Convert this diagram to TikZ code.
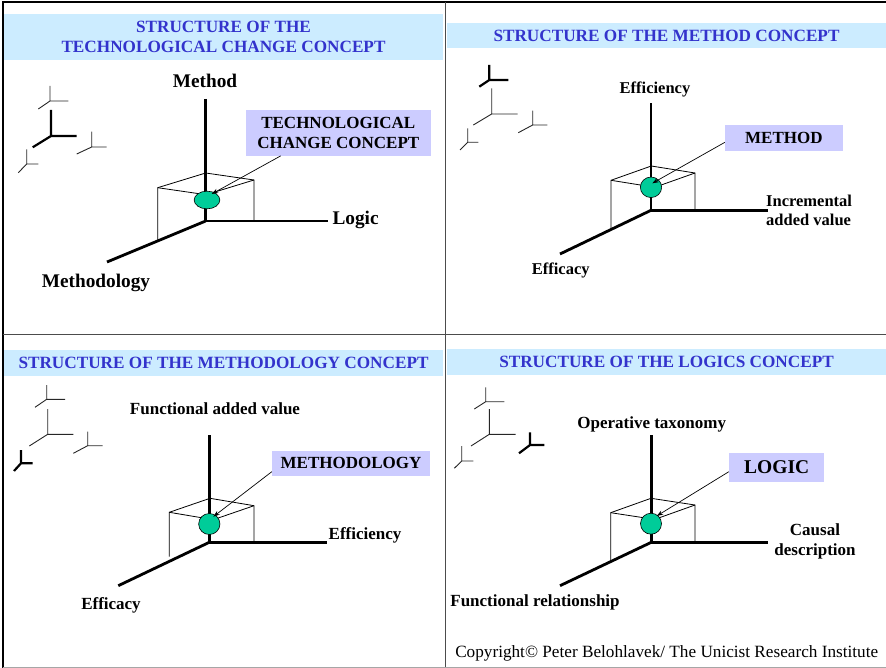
\documentclass[tikz,border=0pt]{standalone}
\usepackage{fontspec}
\setmainfont{Liberation Serif}
\usetikzlibrary{arrows.meta,shapes.geometric}
\definecolor{bandblue}{RGB}{204,236,255}
\definecolor{headblue}{RGB}{51,51,204}
\definecolor{lav}{RGB}{204,204,255}
\definecolor{dotgreen}{RGB}{0,204,153}
\begin{document}
\begin{tikzpicture}[x=1pt,y=-1pt,
  band/.style={fill=bandblue, draw=none, inner sep=0, minimum width=439pt, text=headblue, font=\bfseries\fontsize{17.2}{20}\selectfont, align=center},
  lblA/.style={font=\bfseries\fontsize{19.3}{22}\selectfont, inner sep=0, text depth=0pt},
  lblB/.style={font=\bfseries\fontsize{16.5}{19.3}\selectfont, inner sep=0, text depth=0pt},
  lblC/.style={font=\bfseries\fontsize{17}{20}\selectfont, inner sep=0, text depth=0pt},
  axisline/.style={line width=2.8pt},
  cubeline/.style={line width=0.8pt},
  gthin/.style={line width=0.9pt, black!85},
  gthick/.style={line width=2.2pt},
  conceptbox/.style={fill=lav, inner sep=0, font=\bfseries\fontsize{17}{20}\selectfont, align=center},
  dot/.style={ellipse, draw=black, line width=0.6pt, fill=dotgreen, inner sep=0},
  pointer/.style={line width=0.7pt, -{Stealth[length=6.5pt,width=4.5pt]}},
  frame/.style={line width=2pt},
  divider/.style={line width=1pt, black!70}]
\useasboundingbox (0,0) rectangle (886,668);

% ---------- header bands ----------
\node[band, minimum height=46pt] (h1) at (223.5,37) {STRUCTURE OF THE\\TECHNOLOGICAL CHANGE CONCEPT};
\node[band, minimum height=24.4pt] (h2) at (666.5,35.5) {STRUCTURE OF THE METHOD CONCEPT};
\node[band, minimum height=26pt] (h3) at (223.5,363) {STRUCTURE OF THE METHODOLOGY CONCEPT};
\node[band, minimum height=26pt] (h4) at (666.5,362) {STRUCTURE OF THE LOGICS CONCEPT};

% ---------- frame ----------
\draw[frame] (886,2.5) -- (2.5,2.5) -- (2.5,668);
\draw[divider] (445,2.5) -- (445,668);
\draw[divider] (2.5,334.5) -- (886,334.5);
\draw[line width=1pt, black!35] (2.5,667) -- (886,667);

% ---------- small axis glyphs ----------
% Q1
\draw[gthin]  (50,86) -- (50,101) -- (68.3,101) (50,101) -- (38.3,109);
\draw[gthick] (51,110) -- (51,136) -- (76.7,136) (51,136) -- (32.7,147.3);
\draw[gthin]  (91.7,131.7) -- (91.7,147) -- (106.7,147) (91.7,147) -- (76.7,154);
\draw[gthin]  (26.7,149.3) -- (26.7,164) -- (38.3,164) (26.7,164) -- (18.3,172.7);
% Q2
\draw[gthick] (489.3,65) -- (489.3,80) -- (508.3,80) (489.3,80) -- (479.3,86.7);
\draw[gthin]  (491.7,88.3) -- (491.7,114) -- (517.7,114) (491.7,114) -- (473.3,125);
\draw[gthin]  (532.7,110.7) -- (532.7,125) -- (547.3,125) (532.7,125) -- (518.3,132.7);
\draw[gthin]  (467.7,128.3) -- (467.7,142.3) -- (478.3,142.3) (467.7,142.3) -- (460,150);
% Q3
\draw[gthin]  (46.7,385) -- (46.7,399.3) -- (65,399.3) (46.7,399.3) -- (35,407.3);
\draw[gthin]  (47.7,409) -- (47.7,434.3) -- (73.3,434.3) (47.7,434.3) -- (29.3,446);
\draw[gthin]  (87.7,431.7) -- (87.7,445.7) -- (102.7,445.7) (87.7,445.7) -- (73.3,453.3);
\draw[gthick] (21,450) -- (21,463.3) -- (32.7,463.3) (21,463.3) -- (14,471);
% Q4
\draw[gthin]  (485.7,387.3) -- (485.7,401.7) -- (504.3,401.7) (485.7,401.7) -- (474.3,409);
\draw[gthin]  (489.3,409) -- (489.3,434.3) -- (515.7,434.3) (489.3,434.3) -- (471,446);
\draw[gthick] (530,432.3) -- (530,445) -- (544.3,445) (530,445) -- (519,453.3);
\draw[gthin]  (461.7,446) -- (461.7,461) -- (473.3,461) (461.7,461) -- (454.3,468.3);

% ---------- Q1 ----------
\coordinate (o1) at (205.7,221);
\coordinate (t1) at (205.7,99);
\coordinate (r1) at (328,221);
\coordinate (d1) at (107,262);
\draw[cubeline] (157.7,240) -- (157.7,187.7) -- (205.7,173) -- (254,180) -- (254,221);
\draw[cubeline] (157.7,187.7) -- (206,194.7) -- (254,180);
\draw[axisline] (t1) -- (o1) -- (r1);
\draw[axisline] (o1) -- (d1);
\node[dot, minimum width=25.7pt, minimum height=17.7pt] (e1) at (207,200) {};
\node[lblA] (m1) at (205,81) {Method};
\node[lblA, anchor=west] (l1) at (332.3,218) {Logic};
\node[lblA] (g1) at (96,281) {Methodology};
\node[conceptbox, minimum width=184.7pt, minimum height=45.7pt] (lb1) at (338.3,132.8) {TECHNOLOGICAL\\CHANGE CONCEPT};
\draw[pointer] ([xshift=35pt]lb1.south west) -- ([xshift=4.7pt,yshift=6pt]e1.center);

% ---------- Q2 ----------
\coordinate (o2) at (651,210.3);
\coordinate (t2) at (651,103.3);
\coordinate (r2) at (768.3,210.3);
\coordinate (d2) at (560,254);
\draw[cubeline] (611,229) -- (611,180.3) -- (651.3,166) -- (695,173) -- (695,210.3);
\draw[cubeline] (611,180.3) -- (654.7,187.3) -- (695,173);
\draw[axisline] (t2) -- (o2) -- (r2);
\draw[axisline] (o2) -- (d2);
\node[dot, minimum width=21.3pt, minimum height=20.5pt] (e2) at (651,187.3) {};
\node[lblB] (m2) at (655,87.7) {Efficiency};
\node[lblB, anchor=west, align=left] (l2) at (766,210.3) {Incremental\\added value};
\node[lblB] (g2) at (560.7,268.3) {Efficacy};
\node[conceptbox, minimum width=117.7pt, minimum height=25.7pt] (lb2) at (783.85,137.85) {METHOD};
\draw[pointer] ([yshift=-4.5pt]lb2.west) -- ([xshift=1.3pt,yshift=4pt]e2.center);

% ---------- Q3 ----------
\coordinate (o3) at (209.3,542.3);
\coordinate (t3) at (209.3,435);
\coordinate (r3) at (326.7,542.3);
\coordinate (d3) at (118.3,585.7);
\draw[cubeline] (169.3,556.7) -- (169.3,512.3) -- (210,498.3) -- (254,505.7) -- (254,542.3);
\draw[cubeline] (169.3,512.3) -- (213.3,519.7) -- (254,505.7);
\draw[axisline] (t3) -- (o3) -- (r3);
\draw[axisline] (o3) -- (d3);
\node[dot, minimum width=21.3pt, minimum height=21pt] (e3) at (209.3,524) {};
\node[lblC] (m3) at (215,408.3) {Functional added value};
\node[lblC, anchor=west] (l3) at (328.5,534) {Efficiency};
\node[lblC] (g3) at (111,603.3) {Efficacy};
\node[conceptbox, minimum width=158pt, minimum height=25pt] (lb3) at (351,463.2) {METHODOLOGY};
\draw[pointer] ([yshift=-8.5pt]lb3.west) -- ([xshift=4pt,yshift=7.3pt]e3.center);

% ---------- Q4 ----------
\coordinate (o4) at (651.3,542.3);
\coordinate (t4) at (651.3,435);
\coordinate (r4) at (768.3,542.3);
\coordinate (d4) at (560,585.7);
\draw[cubeline] (610.7,561) -- (610.7,512.7) -- (651,498.3) -- (695,505) -- (695,542.3);
\draw[cubeline] (610.7,512.7) -- (654.7,519.4) -- (695,505);
\draw[axisline] (t4) -- (o4) -- (r4);
\draw[axisline] (o4) -- (d4);
\node[dot, minimum width=21pt, minimum height=21pt] (e4) at (651,523.7) {};
\node[lblC] (m4) at (651.7,422.7) {Operative taxonomy};
\node[lblC, align=center] (l4) at (815,540) {Causal\\description};
\node[lblC] (g4) at (535,600.7) {Functional relationship};
\node[conceptbox, minimum width=95.3pt, minimum height=28.4pt, font=\bfseries\fontsize{19.5}{22}\selectfont] (lb4) at (776.7,467.5) {LOGIC};
\draw[pointer] ([yshift=-4.2pt]lb4.west) -- ([xshift=5.7pt,yshift=7.7pt]e4.center);

% ---------- copyright ----------
\node[font=\fontsize{17.2}{20}\selectfont, inner sep=0, text depth=0pt] (cp) at (666.7,651.7) {Copyright© Peter Belohlavek/ The Unicist Research Institute};
\end{tikzpicture}
\end{document}
